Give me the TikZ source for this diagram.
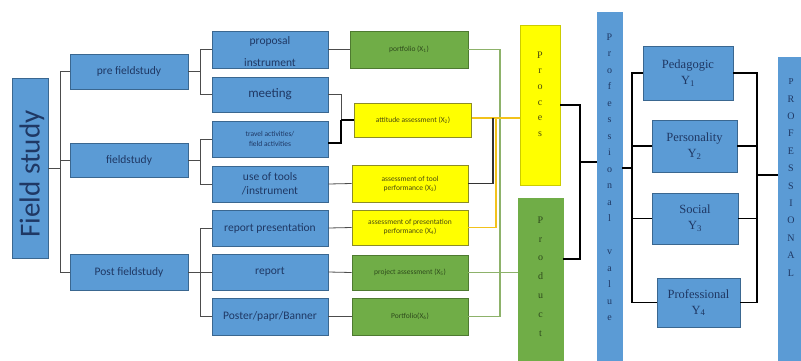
\documentclass[tikz,border=0pt]{standalone}
\usepackage{fontspec}
\setmainfont{Carlito}
\newfontfamily\serifY{Liberation Serif}
\usetikzlibrary{calc}
\definecolor{bfill}{HTML}{5B9BD5}
\definecolor{bdraw}{HTML}{3A6790}
\definecolor{gfill}{HTML}{70AD47}
\definecolor{gdraw}{HTML}{4E7A30}
\definecolor{yfill}{HTML}{FFFF00}
\definecolor{ydraw}{HTML}{8C8C28}
\definecolor{navy}{HTML}{1F3864}
\definecolor{gline}{HTML}{8DB26A}
\definecolor{yline}{HTML}{F2C21B}
\definecolor{gtext}{HTML}{2E4A1C}
\definecolor{ytext}{HTML}{4A4A10}
\begin{document}
\begin{tikzpicture}[x=1pt,y=-1pt,
  wh/.style 2 args={minimum width=#1pt, minimum height=#2pt},
  box/.style={rectangle, inner sep=1pt, line width=0.9pt, align=center},
  bluebox/.style={box, fill=bfill, draw=bdraw, text=navy, font=\fontsize{11.5}{14}\selectfont},
  greenbox/.style={box, fill=gfill, draw=gdraw, text=gtext, font=\fontsize{7.5}{9}\selectfont},
  yellowbox/.style={box, fill=yfill, draw=ydraw, text=ytext, font=\fontsize{7.5}{9}\selectfont},
  ybox/.style={box, fill=bfill, draw=bdraw, text=navy, font={\serifY\fontsize{12.5}{16}\selectfont}},
  stack/.style={align=center, inner sep=0pt, font={\serifY\fontsize{10}{#1}\selectfont}},
  conn/.style={draw=black!70, line width=0.8pt},
  bconn/.style={draw=black, line width=1.4pt},
  gconn/.style={draw=gline, line width=1.1pt},
  yconn/.style={draw=yline, line width=1.1pt}]
\useasboundingbox[fill=white] (0,0) rectangle (801,360);

% column 1
\node[bluebox, wh={36}{180}] (fs) at (30,168) {};
\node[rotate=90, text=navy, font=\fontsize{29}{30}\selectfont, inner sep=0pt] (fst) at ($(fs.center)+(2,6)$) {Field study};
\node[bluebox, wh={118}{35}] (pre) at (129,71.5) {pre fieldstudy};
\node[bluebox, wh={118}{34}] (fld) at (129,160) {fieldstudy};
\node[bluebox, wh={118}{36}] (post) at (129,272) {Post fieldstudy};

% column 2
\node[bluebox, wh={116}{37}] (b1) at (270,49.5) {};
\node[align=center, text=navy, inner sep=0pt, font=\fontsize{11.5}{22}\selectfont] (b1t) at ($(b1.center)+(0,2)$) {proposal\\instrument};
\node[bluebox, wh={116}{35}, font=\fontsize{13}{15}\selectfont] (b2) at (270,94.5) {meeting};
\node[bluebox, wh={116}{36}, font=\fontsize{7.5}{9.5}\selectfont] (b3) at (270,139) {travel activities/\\field activities};
\node[bluebox, wh={116}{36}] (b4) at (270,184) {use of tools\\/instrument};
\node[bluebox, wh={116}{36}] (b5) at (270,228) {report presentation};
\node[bluebox, wh={116}{36}] (b6) at (270,272) {report};
\node[bluebox, wh={116}{37}] (b7) at (270,316.5) {Poster/papr/Banner};

% column 3
\node[greenbox, wh={118}{37}] (c1) at (409,49.5) {portfolio (X\textsubscript{1})};
\node[yellowbox, wh={117}{34}] (c2) at (413,120) {attitude assessment (X\textsubscript{2})};
\node[yellowbox, wh={116}{37}] (c3) at (410,183.5) {assessment of tool\\performance (X\textsubscript{3})};
\node[yellowbox, wh={116}{35}] (c4) at (410,227.5) {assessment of presentation\\performance (X\textsubscript{4})};
\node[greenbox, wh={116}{35}] (c5) at (410,272.5) {project assessment (X\textsubscript{5})};
\node[greenbox, wh={116}{37}] (c6) at (410,316.5) {Portfolio(X\textsubscript{6})};

% process / product / professional value
\node[box, fill=yfill, draw=yfill!80!black, wh={40}{160}] (pr) at (540,105) {};
\node[stack=15.6, text=ytext] (prt) at (540,94) {\serifY P\\\serifY r\\\serifY o\\\serifY c\\\serifY e\\\serifY s};
\node[box, fill=gfill, draw=gfill, wh={45}{164}] (pd) at (540.5,280) {};
\node[stack=18.8, text=gtext] (pdt) at (540.5,276.5) {\serifY P\\\serifY r\\\serifY o\\\serifY d\\\serifY u\\\serifY c\\\serifY t};
\node[box, fill=bfill, draw=bfill, wh={25}{350}] (pv) at (609.5,187) {};
\node[stack=16.5, text=navy] (pvt) at (609.5,177.5) {\serifY P\\\serifY r\\\serifY o\\\serifY f\\\serifY e\\\serifY s\\\serifY s\\\serifY i\\\serifY o\\\serifY n\\\serifY a\\\serifY l\\\mbox{}\\\serifY v\\\serifY a\\\serifY l\\\serifY u\\\serifY e};

% Y boxes
\node[ybox, wh={90}{54}] (y1) at (688,73) {\serifY Pedagogic\\\serifY Y\textsubscript{1}};
\node[ybox, wh={85}{52}] (y2) at (694.5,146) {\serifY Personality\\\serifY Y\textsubscript{2}};
\node[ybox, wh={86}{51}] (y3) at (695,218.5) {\serifY Social\\\serifY Y\textsubscript{3}};
\node[ybox, wh={83}{49}] (y4) at (698.5,302.5) {\serifY Professional\\\serifY Y\textsubscript{4}};

\node[box, fill=bfill, draw=bfill, wh={23}{304}] (PR) at (789.5,209) {};
\node[stack=17.4, text=navy] (PRt) at (791,177.5) {\serifY\fontsize{9}{17.4}\selectfont P\\\serifY R\\\serifY O\\\serifY F\\\serifY E\\\serifY S\\\serifY S\\\serifY I\\\serifY O\\\serifY N\\\serifY A\\\serifY L};

% connectors: column 1 -> 2
\coordinate (j1) at (60,168);
\draw[conn] (fs.east) -- (j1);
\draw[conn] (pre.west) -| (j1);
\draw[conn] (fld.west) -| (j1);
\draw[conn] (post.west) -| (j1);

\coordinate (j2) at (200,71.5);
\draw[conn] (pre.east) -- (j2);
\draw[conn] (j2) |- (b1.west);
\draw[conn] (j2) |- (b2.west);
\coordinate (j3) at (200,160);
\draw[conn] (fld.east) -- (j3);
\draw[conn] (j3) |- (b3.west);
\draw[conn] (j3) |- (b4.west);
\coordinate (j4) at (200,272);
\draw[conn] (post.east) -- (j4);
\draw[conn] (j4) |- (b5.west);
\draw[conn] (j4) |- (b6.west);
\draw[conn] (j4) |- (b7.west);

% column 2 -> 3
\draw[conn] (b1.east) -- (c1.west);
\coordinate (j5) at (341,120);
\draw[conn] (b2.east) -| (j5);
\draw[bconn] ([yshift=-4pt]b3.east) -| (j5);
\draw[bconn] (j5) -- (c2.west);
\draw[conn] (b4.east) -- (c3.west);
\draw[conn] (b5.east) -- (c4.west);
\draw[conn] (b6.east) -- (c5.west);
\draw[conn] (b7.east) -- (c6.west);

% column 3 -> process / product
\coordinate (j6) at (500,272.5);
\draw[gconn] (c1.east) -| (j6);
\draw[gconn] (c6.east) -| (j6);
\draw[gconn] (c5.east) -- (c5.east -| pd.west);
\coordinate (j7) at (496,118);
\coordinate (j8) at (493,118);
\draw[yconn] ([yshift=2pt]c2.east) -- ([yshift=2pt]c2.east -| pr.west);
\draw[yconn] (c4.east) -| (j7);
\draw[draw=black!80, line width=1.1pt] (c3.east) -| (j8);

% process / product -> professional value
\coordinate (j9) at (580,162);
\draw[bconn] (pr.east) -| (j9);
\draw[bconn] ([yshift=21pt]pd.east) -| (j9);
\draw[bconn] (j9) -- (j9 -| pv.west);

% professional value -> Y
\coordinate (j10) at (632,168);
\draw[bconn] (j10 -| pv.east) -- (j10);
\draw[bconn] (j10) |- (y1.west);
\draw[bconn] (j10) |- (y2.west);
\draw[bconn] (j10) |- (y3.west);
\draw[bconn] (j10) |- (y4.west);

% Y -> PROFESSIONAL
\coordinate (j11) at (757,175);
\draw[bconn] (y1.east) -| (j11);
\draw[bconn] (y2.east) -| (j11);
\draw[bconn] (y3.east) -| (j11);
\draw[bconn] (y4.east) -| (j11);
\draw[bconn] (j11) -- (j11 -| PR.west);
\end{tikzpicture}
\end{document}
